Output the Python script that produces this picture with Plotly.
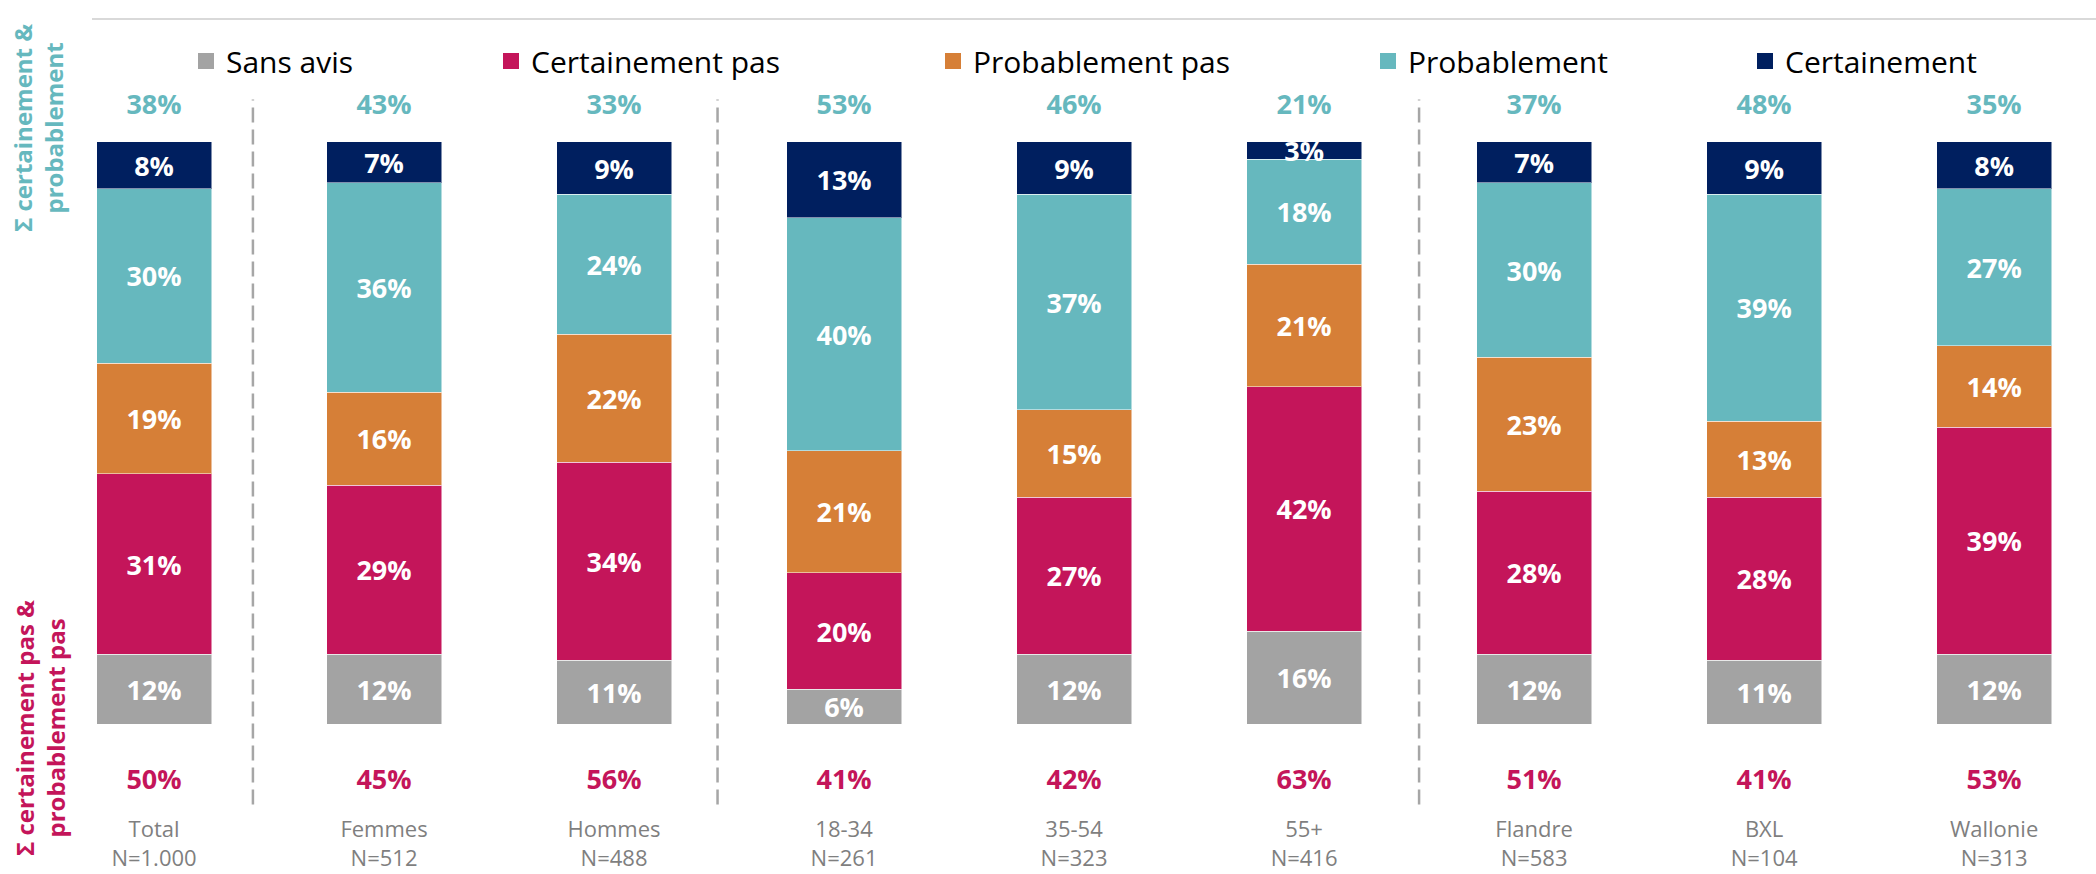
import plotly.graph_objects as go

categories = ["Total", "Femmes", "Hommes", "18-34", "35-54", "55+", "Flandre", "BXL", "Wallonie"]
sample_n = ["1.000", "512", "488", "261", "323", "416", "583", "104", "313"]

sans_avis = [12, 12, 11, 6, 12, 16, 12, 11, 12]
certainement_pas = [31, 29, 34, 20, 27, 42, 28, 28, 39]
probablement_pas = [19, 16, 22, 21, 15, 21, 23, 13, 14]
probablement = [30, 36, 24, 40, 37, 18, 30, 39, 27]
certainement = [8, 7, 9, 13, 9, 3, 7, 9, 8]

sum_positive = [38, 43, 33, 53, 46, 21, 37, 48, 35]
sum_negative = [50, 45, 56, 41, 42, 63, 51, 41, 53]

# group separators (between categories)
separators = [0.43, 2.45, 5.5]

FONT = "Open Sans"
TEAL = "#66B8BE"
PINK = "#C4155A"
series = [
    ("Sans avis", sans_avis, "#A3A3A3"),
    ("Certainement pas", certainement_pas, PINK),
    ("Probablement pas", probablement_pas, "#D67F37"),
    ("Probablement", probablement, TEAL),
    ("Certainement", certainement, "#001F5F"),
]
legend_left_px = [198, 503, 945, 1380, 1757]

W, H = 2096, 874
ML, MR, MT, MB = 92, 0, 96, 66
plot_w = W - ML - MR
plot_h = H - MT - MB

xs = list(range(len(categories)))
ticktext = [f"{c}<br>N={n}" for c, n in zip(categories, sample_n)]

fig = go.Figure()

for i, (name, vals, color) in enumerate(series):
    lg = "legend" if i == 0 else f"legend{i + 1}"
    fig.add_trace(go.Bar(
        x=xs, y=vals, name=name, width=0.5,
        marker=dict(color=color, line=dict(color="rgba(255,255,255,0.5)", width=1)),
        text=[f"{v}%" for v in vals], textposition="inside", insidetextanchor="middle",
        textangle=0, textfont=dict(family=FONT, size=27, color="white", weight="bold"),
        showlegend=False, legendgroup=name,
    ))
    fig.add_trace(go.Scatter(
        x=[None], y=[None], mode="markers", name=name, legendgroup=name, legend=lg,
        marker=dict(symbol="square", size=18, color=color),
    ))

fig.add_trace(go.Scatter(
    x=xs, y=[106] * len(xs), mode="text", text=[f"{v}%" for v in sum_positive], cliponaxis=False,
    textfont=dict(family=FONT, size=27, color=TEAL, weight="bold"), showlegend=False,
))
fig.add_trace(go.Scatter(
    x=xs, y=[-10] * len(xs), mode="text", text=[f"{v}%" for v in sum_negative], cliponaxis=False,
    textfont=dict(family=FONT, size=27, color=PINK, weight="bold"), showlegend=False,
))

for s in separators:
    fig.add_shape(type="line", xref="x", yref="paper", x0=s, x1=s, y0=0.005, y1=0.995,
                  line=dict(color="#A6A6A6", width=2.5, dash="15px,7px"))

fig.add_shape(type="line", xref="paper", yref="paper", x0=0, x1=1,
              y0=(H - MB - 19) / plot_h, y1=(H - MB - 19) / plot_h,
              line=dict(color="#D9D9D9", width=2))

def px_to_paper_x(px):
    return (px - ML) / plot_w

def px_to_paper_y(py):
    return (H - MB - py) / plot_h

fig.add_annotation(text="Σ certainement &<br>probablement", xref="paper", yref="paper",
                   x=px_to_paper_x(38), y=px_to_paper_y(128), xanchor="center", yanchor="middle",
                   showarrow=False, textangle=-90,
                   font=dict(family=FONT, size=24, color=TEAL, weight="bold"), align="center")
fig.add_annotation(text="Σ certainement pas &<br>probablement pas", xref="paper", yref="paper",
                   x=px_to_paper_x(40), y=px_to_paper_y(728), xanchor="center", yanchor="middle",
                   showarrow=False, textangle=-90,
                   font=dict(family=FONT, size=24, color=PINK, weight="bold"), align="center")

legends = {}
for i, left in enumerate(legend_left_px):
    key = "legend" if i == 0 else f"legend{i + 1}"
    legends[key] = dict(x=px_to_paper_x(left - 12), y=px_to_paper_y(61), xanchor="left", yanchor="middle",
                        orientation="h", bgcolor="rgba(0,0,0,0)", borderwidth=0,
                        font=dict(family=FONT, size=30, color="#000000"), itemsizing="trace")

fig.update_layout(
    width=W, height=H,
    margin=dict(l=ML, r=MR, t=MT, b=MB, autoexpand=False),
    barmode="stack",
    uniformtext=dict(minsize=27, mode="show"),
    plot_bgcolor="white", paper_bgcolor="white",
    xaxis=dict(range=[-0.2696, 8.443], tickvals=xs, ticktext=ticktext, showgrid=False, zeroline=False,
               showline=False, ticks="", tickfont=dict(family=FONT, size=22, color="#7F7F7F"),
               ticklabelstandoff=6, fixedrange=True),
    yaxis=dict(range=[-14.4, 107.9], visible=False, fixedrange=True),
    font=dict(family=FONT),
    **legends,
)

fig.write_html("out.html", config={"displayModeBar": False},
               post_script="document.body.style.margin='0';")
